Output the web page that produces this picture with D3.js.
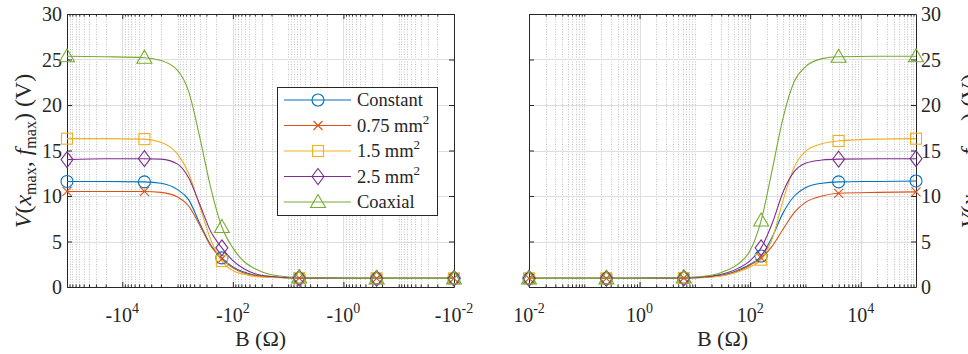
<!DOCTYPE html>
<html>
<head>
<meta charset="utf-8">
<script src="https://cdn.jsdelivr.net/npm/d3@7"></script>
<style>
  body { margin: 0; background: #fff; }
  text { font-family: "Liberation Serif", "DejaVu Serif", serif; }
</style>
</head>
<body>
<div id="chart"></div>
<script>
const bSamples = [0.01, 0.251, 6.31, 20, 39.8, 63.1, 100, 158, 251, 398, 631, 1000, 2000, 3981, 20000, 100000];
// which samples carry a marker
const markerIdx = [0, 1, 2, 7, 13, 15];

const seriesNames = ['Constant', '0.75 mm', '1.5 mm', '2.5 mm', 'Coaxial'];
const seriesSup = ['', '2', '2', '2', ''];
const seriesColors = ['#0072BD', '#D95319', '#EDB120', '#7E2F8E', '#77AC30'];
const seriesMarkers = ['circle', 'cross', 'square', 'diamond', 'triangle'];

// right panel, B > 0
const posConstant = [0.95, 0.95, 0.99, 1.15, 1.45, 1.9, 2.5, 3.4, 5.5, 8.2, 10.0, 10.9, 11.4, 11.55, 11.6, 11.65];
const pos075 = [0.95, 0.95, 0.99, 1.1, 1.4, 1.8, 2.4, 3.2, 4.5, 6.4, 8.2, 9.3, 10.0, 10.3, 10.4, 10.45];
const pos15 = [0.95, 0.95, 0.98, 1.1, 1.35, 1.7, 2.2, 3.0, 5.3, 9.6, 13.2, 14.9, 15.75, 16.05, 16.25, 16.3];
const pos25 = [0.95, 0.95, 1.0, 1.2, 1.6, 2.1, 2.9, 4.3, 7.0, 10.5, 12.7, 13.6, 13.95, 14.05, 14.1, 14.1];
const posCoax = [0.95, 0.95, 1.05, 1.3, 1.9, 2.6, 4.0, 7.3, 12.9, 18.7, 22.6, 24.2, 25.1, 25.3, 25.35, 25.35];

// left panel, B < 0 (same |B| samples)
const negConstant = [0.95, 0.95, 0.98, 1.1, 1.3, 1.65, 2.2, 3.2, 4.6, 7.0, 9.6, 10.7, 11.4, 11.55, 11.6, 11.6];
const neg075 = [0.95, 0.95, 0.98, 1.1, 1.25, 1.55, 2.1, 3.1, 4.5, 6.8, 8.9, 9.9, 10.4, 10.5, 10.5, 10.5];
const neg15 = [0.95, 0.95, 0.97, 1.05, 1.15, 1.4, 1.8, 2.85, 5.2, 8.9, 12.5, 14.6, 15.9, 16.25, 16.3, 16.3];
const neg25 = [0.95, 0.95, 1.0, 1.15, 1.45, 2.0, 2.9, 4.3, 6.1, 9.1, 12.0, 13.5, 14.05, 14.1, 14.1, 14.0];
const negCoax = [0.95, 0.95, 1.05, 1.35, 2.0, 2.8, 4.3, 6.6, 10.9, 16.5, 21.5, 23.8, 24.9, 25.2, 25.3, 25.35];

const yTicks = [0, 5, 10, 15, 20, 25, 30];
const leftTicks = [-1e4, -1e2, -1e0, -1e-2];
const leftTickExp = ['4', '2', '0', '-2'];
const rightTicks = [1e-2, 1e0, 1e2, 1e4];
const rightTickExp = ['-2', '0', '2', '4'];

const svgWidth = 968;
const svgHeight = 354;
const yTop = 14, yBot = 287;
const axisColor = '#262626';
const serif = '"Liberation Serif", "DejaVu Serif", serif';

const svg = d3.select('#chart')
    .append('svg')
    .attr('width', svgWidth)
    .attr('height', svgHeight)
    .style('display', 'block')
    .style('font-family', serif);

const yScale = d3.scaleLinear().domain([0, 30]).range([yBot, yTop]);

const panels = [
    {
        x: d3.scaleLog().domain([-1e5, -1e-2]).range([67, 454]),
        sign: -1,
        values: [negConstant, neg075, neg15, neg25, negCoax],
        ticks: leftTicks, exps: leftTickExp, base: '-10',
        ySide: 'left', labelX: 31
    },
    {
        x: d3.scaleLog().domain([1e-2, 1e5]).range([529, 916]),
        sign: 1,
        values: [posConstant, pos075, pos15, pos25, posCoax],
        ticks: rightTicks, exps: rightTickExp, base: '10',
        ySide: 'right', labelX: 977
    }
];

function minorValues(sign) {
    const out = [];
    for (let k = -2; k <= 4; k++) {
        for (let m = 1; m <= 9; m++) {
            if (m === 1 && k % 2 === 0) continue;
            out.push(sign * m * Math.pow(10, k));
        }
    }
    return out;
}

function drawMarker(g, type, cx, cy, color) {
    const s = g.append('g').attr('transform', `translate(${cx},${cy})`)
        .attr('fill', 'none').attr('stroke', color).attr('stroke-width', 1.1);
    if (type === 'circle') {
        s.append('circle').attr('r', 6);
    } else if (type === 'cross') {
        s.append('path').attr('d', 'M-4.5,-4.5L4.5,4.5M-4.5,4.5L4.5,-4.5');
    } else if (type === 'square') {
        s.append('rect').attr('x', -5.5).attr('y', -5.5).attr('width', 11).attr('height', 11);
    } else if (type === 'diamond') {
        s.append('path').attr('d', 'M0,-8L6,0L0,8L-6,0Z');
    } else if (type === 'triangle') {
        s.append('path').attr('d', 'M0,-7.5L7.5,5.5L-7.5,5.5Z');
    }
}

panels.forEach(p => {
    const x = p.x;
    const [x0, x1] = x.range();
    const g = svg.append('g');
    const minors = minorValues(p.sign);

    // grid
    g.append('g').selectAll('line').data(minors).enter().append('line')
        .attr('x1', d => Math.round(x(d)) + 0.5).attr('x2', d => Math.round(x(d)) + 0.5)
        .attr('y1', yTop).attr('y2', yBot)
        .attr('stroke', '#c4c4c4').attr('stroke-dasharray', '1,1.5');
    g.append('g').selectAll('line').data(p.ticks).enter().append('line')
        .attr('x1', d => Math.round(x(d)) + 0.5).attr('x2', d => Math.round(x(d)) + 0.5)
        .attr('y1', yTop).attr('y2', yBot)
        .attr('stroke', '#dedede');
    g.append('g').selectAll('line').data(yTicks).enter().append('line')
        .attr('x1', x0).attr('x2', x1)
        .attr('y1', d => Math.round(yScale(d)) + 0.5).attr('y2', d => Math.round(yScale(d)) + 0.5)
        .attr('stroke', '#dedede');

    // axes box with inward ticks
    const axG = g.append('g').attr('color', axisColor);
    axG.append('g').attr('transform', `translate(0,${yBot})`)
        .call(d3.axisBottom(x).tickValues(p.ticks).tickSizeInner(-5).tickSizeOuter(0).tickFormat(''));
    axG.append('g').attr('transform', `translate(0,${yBot})`)
        .call(d3.axisBottom(x).tickValues(minors).tickSizeInner(-2.5).tickSizeOuter(0).tickFormat(''))
        .call(a => a.select('.domain').remove());
    axG.append('g').attr('transform', `translate(0,${yTop})`)
        .call(d3.axisTop(x).tickValues(p.ticks).tickSizeInner(-5).tickSizeOuter(0).tickFormat(''));
    axG.append('g').attr('transform', `translate(0,${yTop})`)
        .call(d3.axisTop(x).tickValues(minors).tickSizeInner(-2.5).tickSizeOuter(0).tickFormat(''))
        .call(a => a.select('.domain').remove());
    axG.append('g').attr('transform', `translate(${x0},0)`)
        .call(d3.axisLeft(yScale).tickValues(yTicks).tickSizeInner(-5).tickSizeOuter(0).tickFormat(''));
    axG.append('g').attr('transform', `translate(${x1},0)`)
        .call(d3.axisRight(yScale).tickValues(yTicks).tickSizeInner(-5).tickSizeOuter(0).tickFormat(''));

    // x tick labels
    const xl = g.append('g').attr('fill', axisColor)
        .attr('font-family', serif).attr('font-size', 20);
    p.ticks.forEach((t, i) => {
        const txt = xl.append('text').attr('x', x(t)).attr('y', 322).attr('text-anchor', 'middle');
        txt.append('tspan').text(p.base);
        txt.append('tspan').attr('dy', -9).attr('font-size', 14).text(p.exps[i]);
    });

    // y tick labels
    g.append('g').attr('fill', axisColor)
        .attr('font-family', serif).attr('font-size', 20)
        .selectAll('text').data(yTicks).enter().append('text')
        .attr('x', p.ySide === 'left' ? x0 - 5 : x1 + 5)
        .attr('y', d => yScale(d))
        .attr('dy', '0.35em')
        .attr('text-anchor', p.ySide === 'left' ? 'end' : 'start')
        .text(d => d);

    // axis titles
    g.append('text')
        .attr('x', (x0 + x1) / 2).attr('y', 346)
        .attr('text-anchor', 'middle').attr('fill', axisColor)
        .attr('font-family', serif).attr('font-size', 22)
        .text('B (\u03A9)');

    const yl = g.append('text')
        .attr('transform', `translate(${p.labelX},151) rotate(-90)`)
        .attr('text-anchor', 'middle').attr('fill', axisColor)
        .attr('font-family', serif).attr('font-size', 24);
    yl.append('tspan').attr('font-style', 'italic').text('V');
    yl.append('tspan').text('(');
    yl.append('tspan').attr('font-style', 'italic').text('x');
    yl.append('tspan').attr('dy', 5).attr('font-size', 16).text('max');
    yl.append('tspan').attr('dy', -5).text(', ');
    yl.append('tspan').attr('font-style', 'italic').text('f');
    yl.append('tspan').attr('dy', 5).attr('font-size', 16).text('max');
    yl.append('tspan').attr('dy', -5).text(') (V)');

    // curves and markers
    const line = d3.line()
        .x(d => x(d.b))
        .y(d => yScale(d.v))
        .curve(d3.curveMonotoneX);

    p.values.forEach((vals, si) => {
        const pts = bSamples.map((b, i) => ({ b: p.sign * b, v: vals[i] }))
            .sort((a, b) => x(a.b) - x(b.b));
        g.append('path').datum(pts)
            .attr('d', line)
            .attr('fill', 'none')
            .attr('stroke', seriesColors[si])
            .attr('stroke-width', 1.1);
    });
    p.values.forEach((vals, si) => {
        const mg = g.append('g');
        markerIdx.forEach(i => {
            drawMarker(mg, seriesMarkers[si], x(p.sign * bSamples[i]), yScale(vals[i]), seriesColors[si]);
        });
    });
});

// legend (in the left panel)
const lg = svg.append('g');
lg.append('rect')
    .attr('x', 277.5).attr('y', 87.5).attr('width', 160).attr('height', 128)
    .attr('fill', '#fff').attr('stroke', axisColor).attr('stroke-width', 1);
seriesNames.forEach((name, i) => {
    const cy = 100 + i * 25.5;
    lg.append('line')
        .attr('x1', 284).attr('x2', 351).attr('y1', cy).attr('y2', cy)
        .attr('stroke', seriesColors[i]).attr('stroke-width', 1.1);
    drawMarker(lg, seriesMarkers[i], 318, cy, seriesColors[i]);
    const t = lg.append('text')
        .attr('x', 357).attr('y', cy + 6)
        .attr('fill', axisColor)
        .attr('font-family', serif).attr('font-size', 18.5);
    t.append('tspan').text(name);
    if (seriesSup[i]) {
        t.append('tspan').attr('dy', -8).attr('font-size', 13).text(seriesSup[i]);
    }
});
</script>
</body>
</html>
